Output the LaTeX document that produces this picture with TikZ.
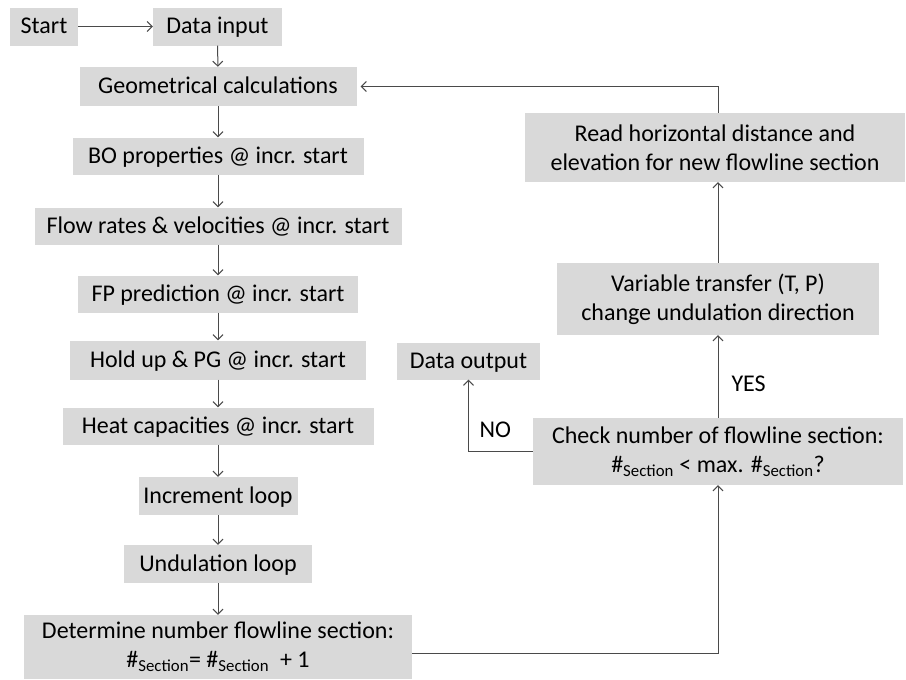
\documentclass[tikz,border=0pt]{standalone}
\usepackage{fontspec}
\setmainfont{Carlito}
\usetikzlibrary{arrows.meta}
\definecolor{boxgrey}{HTML}{D9D9D9}
\definecolor{linegrey}{HTML}{4A4A4A}
\tikzset{
  stepbox/.style={rectangle, fill=boxgrey, inner sep=0pt, align=center,
    font=\fontsize{24}{29}\selectfont, text=black},
  oneline/.style={stepbox, text height=19pt, text depth=5pt},
  flow/.style={draw=linegrey, line width=1pt,
    -{Straight Barb[length=5pt,width=10pt]}},
  lbl/.style={font=\fontsize{24}{28}\selectfont, text=black}
}
\begin{document}
\begin{tikzpicture}[x=1pt,y=-1pt]
\useasboundingbox (0,0) rectangle (906,680);
% main column
\node[oneline, minimum width=68, minimum height=38] (start) at (44,26.5) {Start};
\node[oneline, minimum width=129, minimum height=38] (input) at (217.5,26.5) {Data input};
\node[oneline, minimum width=277, minimum height=39] (geom) at (218,86.5) {Geometrical calculations};
\node[oneline, minimum width=291, minimum height=37] (bo) at (218,156) {BO properties @ incr. start};
\node[oneline, minimum width=367, minimum height=37] (rates) at (218,226) {Flow rates \& velocities @ incr. start};
\node[oneline, minimum width=280, minimum height=37] (fp) at (218,294) {FP prediction @ incr. start};
\node[oneline, minimum width=296, minimum height=39] (hold) at (218,360) {Hold up \& PG @ incr. start};
\node[oneline, minimum width=311, minimum height=37] (heat) at (218,426) {Heat capacities @ incr. start};
\node[oneline, minimum width=159, minimum height=38] (incr) at (218,496) {Increment loop};
\node[oneline, minimum width=188, minimum height=38] (undul) at (218,564) {Undulation loop};
\node[stepbox, minimum width=388, minimum height=64] (det) at (218,647)
  {Determine number flowline section:\\\#\textsubscript{Section}= \#\textsubscript{Section}\ \ + 1};
% right column
\node[stepbox, minimum width=370, minimum height=67] (check) at (718,451.5)
  {Check number of flowline section:\\\#\textsubscript{Section} < max. \#\textsubscript{Section}?};
\node[oneline, minimum width=143, minimum height=37] (out) at (468.5,361) {Data output};
\node[stepbox, minimum width=322, minimum height=72] (var) at (718,299)
  {Variable transfer (T, P)\\change undulation direction};
\node[stepbox, minimum width=380, minimum height=69] (read) at (715,147.5)
  {Read horizontal distance and\\elevation for new flowline section};
% connectors
\draw[flow] (start) -- (input);
\draw[flow] (input) -- (geom);
\draw[flow] (geom) -- (bo);
\draw[flow] (bo) -- (rates);
\draw[flow] (rates) -- (fp);
\draw[flow] (fp) -- (hold);
\draw[flow] (hold) -- (heat);
\draw[flow] (heat) -- (incr);
\draw[flow] (incr) -- (undul);
\draw[flow] (undul) -- (det);
\coordinate (detout) at ([yshift=-6]det.east);
\draw[flow] (detout) -| (check.south);
\draw[flow] (check.west) -| (out.south);
\draw[flow] (check.north) -- (var.south);
\draw[flow] (var.north -| check.north) -- (read.south -| check.north);
\draw[flow, shorten >=4pt] (read.north -| check.north) |- (geom.east);
% decision labels
\node[lbl, anchor=west] (no) at (476,430) {NO};
\node[lbl, anchor=west] (yes) at (728,384) {YES};
\end{tikzpicture}
\end{document}
